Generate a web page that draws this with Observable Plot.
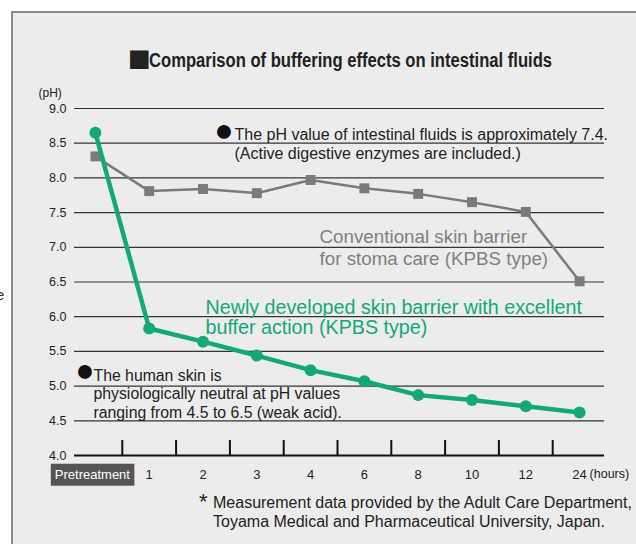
<!DOCTYPE html>
<html><head><meta charset="utf-8">
<script src="https://cdn.jsdelivr.net/npm/d3@7"></script>
<script src="https://cdn.jsdelivr.net/npm/@observablehq/plot@0.6"></script>
<style>
html,body{margin:0;padding:0;background:#fff;}
body{width:636px;height:544px;position:relative;overflow:hidden;font-family:"Liberation Sans",Arial,Helvetica,sans-serif;color:#222;}
#box{position:absolute;left:11px;top:11px;width:640px;height:560px;background:#ececec;border-top:2px solid #8a8a8a;border-left:2px solid #8a8a8a;}
#edge{position:absolute;left:-4px;top:286px;font-size:15px;line-height:18px;color:#333;}
#sq{position:absolute;left:128px;top:39px;font-size:38px;line-height:38px;color:#222;}
#title{position:absolute;left:149px;top:50px;white-space:nowrap;line-height:20px;font-weight:bold;font-size:20px;color:#222;display:inline-block;transform-origin:0 50%;}
#chart{position:absolute;left:0;top:0;}
#caption{position:absolute;left:213px;top:493px;font-size:16px;line-height:19px;white-space:nowrap;color:#222;}
#caption .ast{position:absolute;left:-14px;top:-1px;font-size:22px;}
</style></head><body>
<div id="box"></div>
<div id="edge">e</div>
<div id="sq">■</div>
<div id="title">Comparison of buffering effects on intestinal fluids</div>
<div id="chart"></div>
<div id="caption"><span class="ast">*</span>Measurement data provided by the Adult Care Department,<br>Toyama Medical and Pharmaceutical University, Japan.</div>
<script>
// ---- data ----
const categories = ["Pretreatment", "1", "2", "3", "4", "6", "8", "10", "12", "24"];
const newBarrier = [8.65, 5.83, 5.64, 5.44, 5.23, 5.07, 4.87, 4.80, 4.71, 4.62];
const conventional = [8.31, 7.81, 7.84, 7.78, 7.97, 7.85, 7.77, 7.65, 7.51, 6.51];
const yTicks = [4.0, 4.5, 5.0, 5.5, 6.0, 6.5, 7.0, 7.5, 8.0, 8.5, 9.0];
const noteFluids = "The pH value of intestinal fluids is approximately 7.4.\n(Active digestive enzymes are included.)";
const noteSkin = "The human skin is\nphysiologically neutral at pH values\nranging from 4.5 to 6.5 (weak acid).";
const labelConventional = "Conventional skin barrier\nfor stoma care (KPBS type)";
const labelNew = "Newly developed skin barrier with excellent\nbuffer action (KPBS type)";
const xUnit = "(hours)";
const yUnit = "(pH)";

const rows = categories.map((c, i) => ({time: c, newPH: newBarrier[i], convPH: conventional[i]}));

const GREEN = "#13a87a";
const GRAY = "#7a7a7a";
const xRange = [68, 606];
const step = (xRange[1] - xRange[0]) / categories.length;

const chart = Plot.plot({
  width: 636,
  height: 490,
  marginTop: 108,
  marginLeft: 74,
  marginRight: 32,
  marginBottom: 35,
  style: {background: "transparent", fontFamily: "'Liberation Sans', Arial, Helvetica, sans-serif", color: "#222"},
  x: {type: "band", domain: categories, range: xRange, padding: 0, round: false},
  y: {domain: [4, 9]},
  marks: [
    Plot.ruleY(yTicks.filter(t => t > 4), {stroke: "#333", strokeWidth: 1.2}),
    Plot.ruleY([4], {stroke: "#111", strokeWidth: 2}),
    Plot.ruleX(categories.slice(1), {x: d => d, y1: 4, y2: 4, insetTop: -15, dx: -step / 2, stroke: "#111", strokeWidth: 2}),
    Plot.axisY({ticks: yTicks, tickSize: 0, tickPadding: 8, tickFormat: d3.format(".1f"), fontSize: 12.5, label: null}),
    Plot.axisX({tickSize: 0, tickPadding: 14, fontSize: 13, label: null}),
    Plot.text([yUnit], {frameAnchor: "top-left", dx: -36, dy: -15, textAnchor: "start", lineAnchor: "middle", fontSize: 12, fill: "#222"}),
    Plot.text([xUnit], {x: ["24"], y: [4], dx: 10, dy: 18, textAnchor: "start", lineAnchor: "middle", fontSize: 12.5, fill: "#222"}),
    // conventional
    Plot.line(rows, {x: "time", y: "convPH", stroke: GRAY, strokeWidth: 2.5}),
    Plot.dot(rows, {x: "time", y: "convPH", symbol: "square", r: 5.6, fill: GRAY}),
    // new
    Plot.line(rows, {x: "time", y: "newPH", stroke: GREEN, strokeWidth: 4.5}),
    Plot.dot(rows, {x: "time", y: "newPH", r: 6, fill: GREEN}),
    // annotations
    Plot.text([noteFluids], {frameAnchor: "top-left", dx: 160, dy: 18.6, textAnchor: "start", lineAnchor: "top", fontSize: 16, lineHeight: 1.17, fill: "#222"}),
    Plot.text(["●"], {frameAnchor: "top-left", dx: 159, dy: 22, textAnchor: "end", lineAnchor: "middle", fontSize: 32, fill: "#111"}),
    Plot.text([labelConventional], {frameAnchor: "top-left", dx: 245, dy: 119.5, textAnchor: "start", lineAnchor: "top", fontSize: 18.8, lineHeight: 1.15, fill: "#808080"}),
    Plot.text([labelNew], {frameAnchor: "top-left", dx: 131, dy: 190.5, textAnchor: "start", lineAnchor: "top", fontSize: 19.7, lineHeight: 1.05, fill: GREEN}),
    Plot.text([noteSkin], {frameAnchor: "top-left", dx: 19, dy: 259, textAnchor: "start", lineAnchor: "top", fontSize: 15.8, lineHeight: 1.18, fill: "#222"}),
    Plot.text(["●"], {frameAnchor: "top-left", dx: 20, dy: 262, textAnchor: "end", lineAnchor: "middle", fontSize: 32, fill: "#111"})
  ]
});

document.getElementById("chart").appendChild(chart);

// dark label box behind "Pretreatment"
chart.querySelectorAll("text").forEach(t => {
  if (t.textContent === "Pretreatment") {
    t.setAttribute("x", -3);
    const b = t.getBBox();
    const r = document.createElementNS("http://www.w3.org/2000/svg", "rect");
    r.setAttribute("x", b.x - 4);
    r.setAttribute("y", b.y - 3);
    r.setAttribute("width", b.width + 8);
    r.setAttribute("height", b.height + 7);
    r.setAttribute("fill", "#555");
    const tr = t.getAttribute("transform");
    if (tr) r.setAttribute("transform", tr);
    t.parentNode.insertBefore(r, t);
    t.setAttribute("fill", "#fff");
  }
});

// condense the title to the reference width
const title = document.getElementById("title");
const w = title.getBoundingClientRect().width;
title.style.transform = `scaleX(${403 / w})`;
</script>
</body></html>
